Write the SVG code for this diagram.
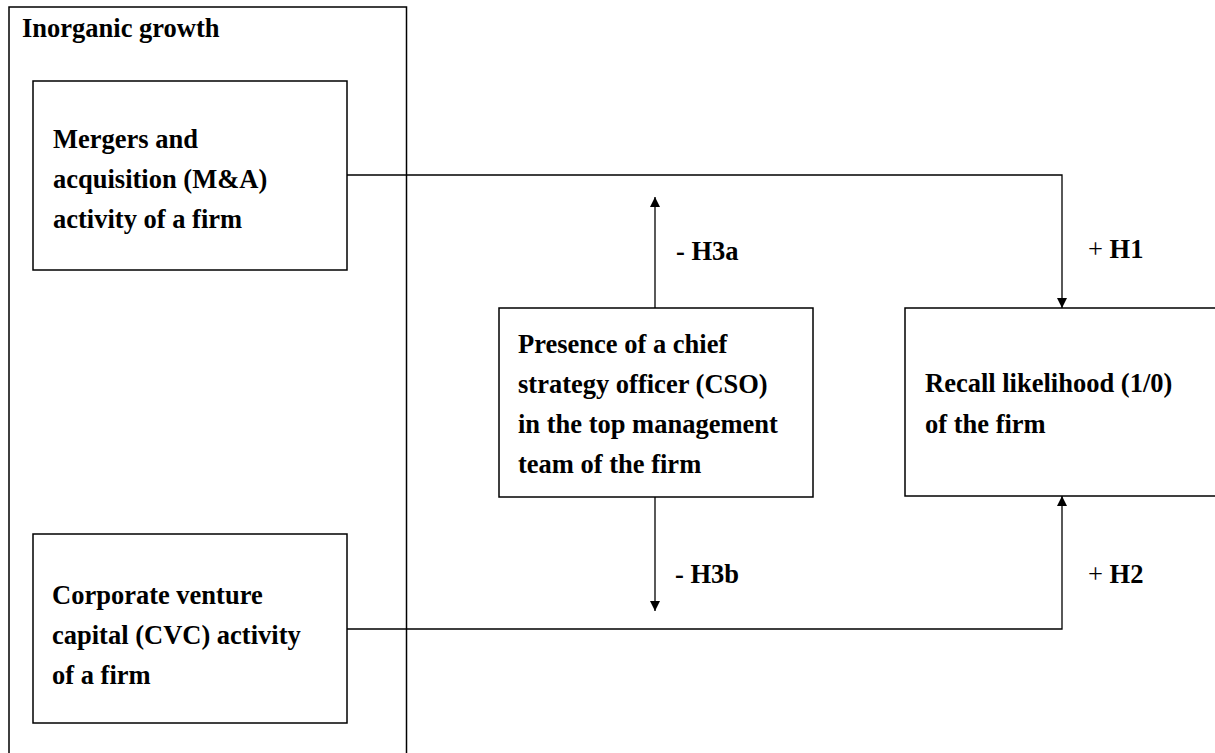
<svg xmlns="http://www.w3.org/2000/svg" width="1215" height="753" viewBox="0 0 1215 753">
  <style>
    .box { fill: #ffffff; stroke: #000000; stroke-width: 1.5; }
    .lbl { font-family: "Liberation Serif", "Times New Roman", serif; font-weight: bold; font-size: 26.5px; fill: #000000; }
    .plain { font-weight: normal; }
    .wire { fill: none; stroke: #000000; stroke-width: 1.3; }
  </style>
  <defs>
    <marker id="arrow" viewBox="0 0 10 10" refX="10" refY="5" markerWidth="11" markerHeight="10" markerUnits="userSpaceOnUse" orient="auto">
      <path d="M0,0 L10,5 L0,10 z" fill="#000000"/>
    </marker>
  </defs>
  <rect width="1215" height="753" fill="#ffffff"/>

  <!-- Inorganic growth container -->
  <g id="inorganic-growth">
    <rect class="box" x="9" y="7" width="397.5" height="760"/>
    <text class="lbl" x="22" y="37">Inorganic growth</text>
  </g>

  <!-- M&A activity -->
  <g id="ma-activity">
    <rect class="box" x="33" y="81" width="314" height="189"/>
    <text class="lbl" x="53" y="148">Mergers and</text>
    <text class="lbl" x="53" y="188">acquisition (M&amp;A)</text>
    <text class="lbl" x="53" y="228">activity of a firm</text>
  </g>

  <!-- CVC activity -->
  <g id="cvc-activity">
    <rect class="box" x="33" y="534" width="314" height="189"/>
    <text class="lbl" x="52" y="604">Corporate venture</text>
    <text class="lbl" x="52" y="644">capital (CVC) activity</text>
    <text class="lbl" x="52" y="684">of a firm</text>
  </g>

  <!-- CSO moderator -->
  <g id="cso-presence">
    <rect class="box" x="499" y="308" width="314" height="189"/>
    <text class="lbl" x="518" y="353">Presence of a chief</text>
    <text class="lbl" x="518" y="393">strategy officer (CSO)</text>
    <text class="lbl" x="518" y="433">in the top management</text>
    <text class="lbl" x="518" y="473">team of the firm</text>
  </g>

  <!-- Outcome -->
  <g id="recall-likelihood">
    <rect class="box" x="905" y="308" width="320" height="188"/>
    <text class="lbl" x="925" y="392">Recall likelihood (1/0)</text>
    <text class="lbl" x="925" y="433">of the firm</text>
  </g>

  <!-- Connectors -->
  <g id="connectors">
    <polyline class="wire" points="347,175 1062,175 1062,308" marker-end="url(#arrow)"/>
    <polyline class="wire" points="347,629 1062,629 1062,496" marker-end="url(#arrow)"/>
    <line class="wire" x1="655" y1="308" x2="655" y2="197" marker-end="url(#arrow)"/>
    <line class="wire" x1="655" y1="497" x2="655" y2="611" marker-end="url(#arrow)"/>
  </g>

  <!-- Hypothesis labels -->
  <g id="hypotheses">
    <text class="lbl" x="676" y="260">- H3a</text>
    <text class="lbl" x="1088" y="258"><tspan class="plain">+</tspan> H1</text>
    <text class="lbl" x="675" y="583">- H3b</text>
    <text class="lbl" x="1088" y="583"><tspan class="plain">+</tspan> H2</text>
  </g>
</svg>
